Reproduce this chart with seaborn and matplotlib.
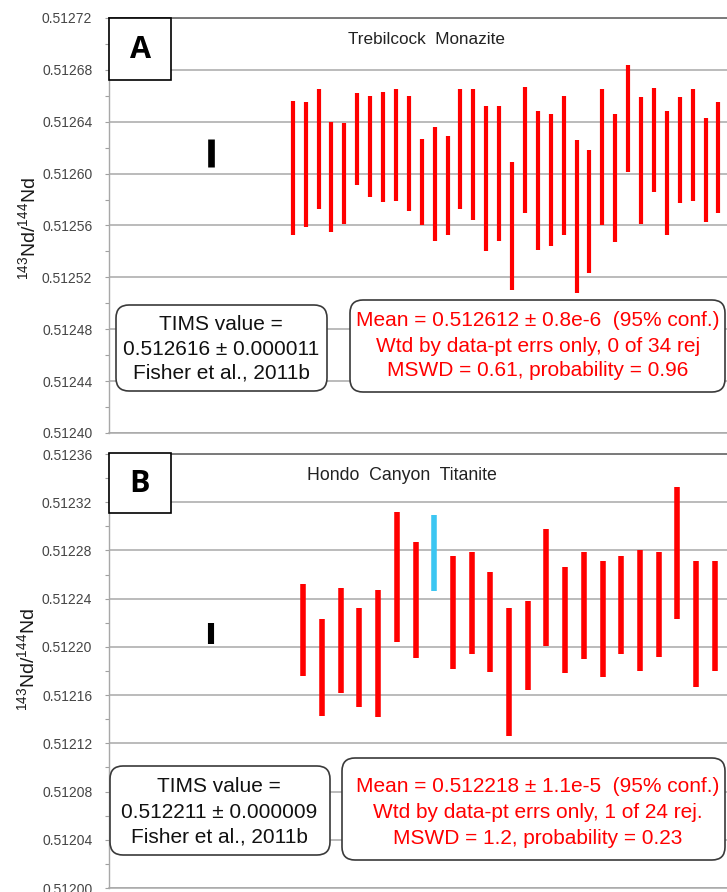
import numpy as np
import pandas as pd
import matplotlib
matplotlib.use("Agg")
import matplotlib.pyplot as plt
from matplotlib.patches import FancyBboxPatch, Rectangle
from matplotlib.ticker import MultipleLocator, FormatStrFormatter
import seaborn as sns

# ---------------- data ----------------
# Panel A: Trebilcock monazite, 2-sigma ranges of 143Nd/144Nd spot analyses
trebilcock_lo = [0.512553, 0.512559, 0.512573, 0.512555, 0.512561, 0.512591, 0.512582,
                 0.512578, 0.512579, 0.512571, 0.512560, 0.512548, 0.512553, 0.512573,
                 0.512564, 0.512540, 0.512548, 0.512510, 0.512570, 0.512541, 0.512544,
                 0.512553, 0.512508, 0.512523, 0.512560, 0.512547, 0.512601, 0.512561,
                 0.512586, 0.512553, 0.512577, 0.512579, 0.512563, 0.512570]
trebilcock_hi = [0.512656, 0.512655, 0.512665, 0.512640, 0.512639, 0.512662, 0.512660,
                 0.512663, 0.512665, 0.512660, 0.512627, 0.512636, 0.512629, 0.512665,
                 0.512665, 0.512652, 0.512652, 0.512609, 0.512667, 0.512648, 0.512646,
                 0.512660, 0.512626, 0.512618, 0.512665, 0.512646, 0.512684, 0.512659,
                 0.512666, 0.512648, 0.512659, 0.512665, 0.512643, 0.512655]

# Panel B: Hondo Canyon titanite
hondo_lo = [0.512176, 0.512143, 0.512162, 0.512150, 0.512142, 0.512204, 0.512191,
            0.512246, 0.512182, 0.512194, 0.512179, 0.512126, 0.512164, 0.512201,
            0.512178, 0.512190, 0.512175, 0.512194, 0.512180, 0.512192, 0.512223,
            0.512167, 0.512180]
hondo_hi = [0.512252, 0.512223, 0.512249, 0.512232, 0.512247, 0.512312, 0.512287,
            0.512309, 0.512275, 0.512279, 0.512262, 0.512232, 0.512238, 0.512298,
            0.512266, 0.512279, 0.512271, 0.512275, 0.512280, 0.512279, 0.512333,
            0.512271, 0.512271]
hondo_rejected = [False] * 7 + [True] + [False] * 15

# TIMS reference values (value, uncertainty)
tims_a = (0.512616, 0.000011)
tims_b = (0.512211, 0.000009)

titles = ["Trebilcock  Monazite", "Hondo  Canyon  Titanite"]
letters = ["A", "B"]
tims_text_a = ["TIMS value =", "0.512616 \u00b1 0.000011", "Fisher et al., 2011b"]
tims_text_b = ["TIMS value =", "0.512211 \u00b1 0.000009", "Fisher et al., 2011b"]
mean_text_a = ["Mean = 0.512612 \u00b1 0.8e-6  (95% conf.)",
               "Wtd by data-pt errs only, 0 of 34 rej",
               "MSWD = 0.61, probability = 0.96"]
mean_text_b = ["Mean = 0.512218 \u00b1 1.1e-5  (95% conf.)",
               "Wtd by data-pt errs only, 1 of 24 rej.",
               "MSWD = 1.2, probability = 0.23"]

# ---------------- style ----------------
sns.set_theme(style="white")
plt.rcParams["font.family"] = ["Liberation Sans", "DejaVu Sans"]
plt.rcParams["mathtext.fontset"] = "custom"
plt.rcParams["mathtext.rm"] = "Liberation Sans"
plt.rcParams["mathtext.it"] = "Liberation Sans"

W, H = 727, 892
fig = plt.figure(figsize=(W / 100, H / 100), dpi=100)


def fx(px):
    return px / W


def fy(py):
    return 1 - py / H


def add_axes_px(left, top, right, bottom):
    return fig.add_axes([fx(left), fy(bottom), (right - left) / W, (bottom - top) / H])


def range_frame(lo, hi, flags=None):
    rows = []
    for i, (a, b) in enumerate(zip(lo, hi)):
        status = "rejected" if (flags is not None and flags[i]) else "accepted"
        rows.append({"x": i, "y": a, "id": i, "status": status})
        rows.append({"x": i, "y": b, "id": i, "status": status})
    return pd.DataFrame(rows)


def style_axes(ax, ymin, ymax):
    ax.set_ylim(ymin, ymax)
    ax.yaxis.set_major_locator(MultipleLocator(0.00004))
    ax.yaxis.set_minor_locator(MultipleLocator(0.00002))
    ax.yaxis.set_major_formatter(FormatStrFormatter("%.5f"))
    ax.grid(axis="y", which="major", color="#a8a8a8", lw=1.1, zorder=0)
    ax.grid(axis="x", visible=False)
    ax.set_xticks([])
    ax.set_xlabel("")
    ax.tick_params(axis="y", which="both", left=True, direction="out",
                   length=3, width=0.8, color="#a0a0a0",
                   labelsize=10, labelcolor="#454545", pad=9)
    ax.spines["left"].set_color("#a8a8a8")
    ax.spines["left"].set_linewidth(1.0)
    ax.spines["bottom"].set_color("#a8a8a8")
    ax.spines["bottom"].set_linewidth(1.1)
    ax.spines["top"].set_color("#7a7a7a")
    ax.spines["top"].set_linewidth(1.4)
    ax.spines["right"].set_visible(False)
    ax.set_ylabel("")


def rounded_box(x0, y0, x1, y1):
    patch = FancyBboxPatch((fx(x0), fy(y1)), (x1 - x0) / W, (y1 - y0) / H,
                           boxstyle="round,pad=0,rounding_size=%f" % (13 / W),
                           mutation_aspect=W / H, transform=fig.transFigure,
                           facecolor="white", edgecolor="#3a3a3a", lw=1.2, zorder=5)
    fig.add_artist(patch)


def text_lines(cx, ys, lines, color):
    for y, s in zip(ys, lines):
        fig.text(fx(cx), fy(y), s, ha="center", va="center", fontsize=15,
                 color=color, zorder=6)


def letter_box(x0, y0, x1, y1, letter):
    fig.add_artist(Rectangle((fx(x0), fy(y1)), (x1 - x0) / W, (y1 - y0) / H,
                             transform=fig.transFigure, facecolor="white",
                             edgecolor="black", lw=1.2, zorder=5))
    fig.text(fx((x0 + x1) / 2), fy((y0 + y1) / 2 + 1), letter, ha="center", va="center",
             fontsize=22, fontweight="bold", family=["Open Sans", "DejaVu Sans"],
             color="black", zorder=6)


ylabel = r"$^{143}$Nd/$^{144}$Nd"

# ---------------- panel A ----------------
axA = add_axes_px(109, 18, 727, 433)
step_a, first_a = 12.9, 292.7
axA.set_xlim((109 - first_a) / step_a, (727 - first_a) / step_a)
dfa = range_frame(trebilcock_lo, trebilcock_hi)
sns.lineplot(data=dfa, x="x", y="y", units="id", estimator=None, sort=False,
             color="#ff0000", lw=3.0, solid_capstyle="butt", ax=axA, legend=False, zorder=3)
tims_x_a = (210.7 - first_a) / step_a
dft_a = pd.DataFrame({"x": [tims_x_a, tims_x_a],
                      "y": [tims_a[0] - tims_a[1], tims_a[0] + tims_a[1]]})
sns.lineplot(data=dft_a, x="x", y="y", sort=False, estimator=None, color="black",
             lw=4.8, solid_capstyle="butt", ax=axA, legend=False, zorder=3)
style_axes(axA, 0.51240, 0.51272)
fig.text(fx(28), fy(228), ylabel, rotation=90, ha="center", va="center",
         fontsize=14, color="#1a1a1a")
fig.text(fx(426), fy(40), titles[0], ha="center", va="center", fontsize=12.3,
         color="#222222")
letter_box(109, 18, 171, 80, letters[0])
rounded_box(116, 305, 327, 391)
text_lines(221, [325, 349, 373], tims_text_a, "#111111")
rounded_box(350, 300, 725, 392)
text_lines(538, [321, 346, 371], mean_text_a, "#ff0000")

# ---------------- panel B ----------------
axB = add_axes_px(109, 454, 727, 888)
step_b, first_b = 18.7, 303.3
axB.set_xlim((109 - first_b) / step_b, (727 - first_b) / step_b)
dfb = range_frame(hondo_lo, hondo_hi, hondo_rejected)
sns.lineplot(data=dfb, x="x", y="y", units="id", hue="status", estimator=None, sort=False,
             palette={"accepted": "#ff0000", "rejected": "#3cc6f2"}, lw=4.0,
             solid_capstyle="butt", ax=axB, legend=False, zorder=3)
tims_x_b = (210.7 - first_b) / step_b
dft_b = pd.DataFrame({"x": [tims_x_b, tims_x_b],
                      "y": [tims_b[0] - tims_b[1], tims_b[0] + tims_b[1]]})
sns.lineplot(data=dft_b, x="x", y="y", sort=False, estimator=None, color="black",
             lw=4.4, solid_capstyle="butt", ax=axB, legend=False, zorder=3)
style_axes(axB, 0.51200, 0.51236)
fig.text(fx(27), fy(659), ylabel, rotation=90, ha="center", va="center",
         fontsize=14, color="#1a1a1a")
fig.text(fx(402), fy(475), titles[1], ha="center", va="center", fontsize=12.8,
         color="#222222")
letter_box(109, 453, 171, 513, letters[1])
rounded_box(110, 766, 330, 855)
text_lines(219, [787, 812, 837], tims_text_b, "#111111")
rounded_box(342, 758, 725, 860)
text_lines(538, [786, 812, 838], mean_text_b, "#ff0000")

fig.savefig("out.png", dpi=100)
